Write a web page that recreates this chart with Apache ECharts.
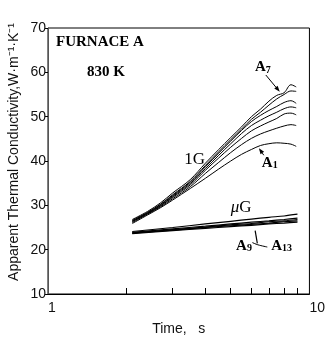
<!DOCTYPE html>
<html>
<head>
<meta charset="utf-8">
<script src="https://cdn.jsdelivr.net/npm/echarts@6/dist/echarts.min.js"></script>
<style>
  html, body { margin: 0; padding: 0; background: #fff; }
  #chart { width: 328px; height: 341px; }
</style>
</head>
<body>
<div id="chart"></div>
<script>
// time axis ticks (log scale)
const xLabels = [1, 10];
const xMinorTicks = [2, 3, 4, 5, 6, 7, 8, 9];

// 1G runs, A1 .. A7
const time1G = [2.1, 2.4, 2.7, 3.0, 3.5, 4.0, 4.5, 5.0, 5.5, 6.0, 6.5, 7.0, 7.5, 8.0, 8.5, 8.9];
const a1 = [25.9, 27.8, 29.5, 31.2, 33.8, 36.1, 38.2, 40.0, 41.5, 42.6, 43.5, 43.9, 44.1, 44.0, 43.8, 43.3];
const a2 = [26.1, 28.0, 29.7, 31.5, 34.2, 37.2, 39.7, 41.9, 43.7, 45.1, 46.1, 46.8, 47.4, 47.9, 48.2, 48.0];
const a3 = [26.3, 28.1, 29.9, 31.8, 34.6, 37.9, 40.7, 43.1, 45.1, 46.8, 47.9, 48.8, 49.6, 50.6, 50.8, 50.4];
const a4 = [26.4, 28.2, 30.0, 32.0, 34.9, 38.3, 41.3, 43.9, 46.2, 48.0, 49.2, 50.2, 51.0, 51.8, 52.2, 52.0];
const a5 = [26.5, 28.3, 30.2, 32.2, 35.2, 38.7, 41.8, 44.5, 46.9, 48.9, 50.3, 51.4, 52.3, 53.2, 53.6, 53.0];
const a6 = [26.6, 28.4, 30.3, 32.4, 35.4, 39.0, 42.1, 44.8, 47.2, 49.4, 51.0, 52.6, 54.0, 55.0, 55.8, 55.7];
const a7 = [26.8, 28.6, 30.6, 32.8, 35.8, 39.5, 42.6, 45.3, 47.7, 50.0, 51.7, 53.5, 54.8, 55.4, 57.2, 56.7];

// microgravity runs, A9 .. A13
const timeMu = [2.1, 3, 4, 5, 6, 7, 8, 9];
const a9  = [24.1, 25.0, 25.8, 26.4, 26.9, 27.3, 27.6, 28.0];
const a10 = [23.9, 24.7, 25.3, 25.8, 26.2, 26.5, 26.8, 27.1];
const a11 = [23.8, 24.5, 25.1, 25.6, 25.9, 26.3, 26.5, 26.8];
const a12 = [23.7, 24.4, 25.0, 25.4, 25.7, 26.0, 26.3, 26.5];
const a13 = [23.6, 24.3, 24.8, 25.2, 25.5, 25.8, 26.0, 26.2];

const runs1G = [a1, a2, a3, a4, a5, a6, a7];
const runsMu = [a9, a10, a11, a12, a13];

const serif = '"Liberation Serif", "DejaVu Serif", serif';
const sans = '"Liberation Sans", Arial, sans-serif';

const chartDom = document.getElementById('chart');
const myChart = echarts.init(chartDom, null, { renderer: 'canvas' });

const series = [];
runs1G.forEach((run, k) => {
  series.push({
    name: 'A' + (k + 1),
    type: 'line',
    data: time1G.map((t, i) => [t, run[i]]),
    showSymbol: false,
    smooth: 0.35,
    lineStyle: { color: '#000', width: 1 }
  });
});
runsMu.forEach((run, k) => {
  series.push({
    name: 'A' + (k + 9),
    type: 'line',
    data: timeMu.map((t, i) => [t, run[i]]),
    showSymbol: false,
    smooth: 0.3,
    lineStyle: { color: '#000', width: 1.2 }
  });
});

const option = {
  animation: false,
  grid: {
    left: 48, top: 28, right: 16, bottom: 42,
    show: true, borderColor: '#000', borderWidth: 1
  },
  xAxis: {
    type: 'log',
    logBase: 10,
    min: 1,
    max: 10,
    name: 'Time,   s',
    nameLocation: 'middle',
    nameGap: 28,
    nameTextStyle: { fontFamily: sans, fontSize: 14, color: '#111' },
    axisLine: { lineStyle: { color: '#000', width: 1 } },
    axisTick: { show: true, inside: true, length: 6, customValues: xMinorTicks, lineStyle: { color: '#000' } },
    axisLabel: { customValues: xLabels, align: 'left', margin: 7, fontFamily: sans, fontSize: 14, color: '#111' },
    splitLine: { show: false }
  },
  yAxis: {
    type: 'value',
    min: 10,
    max: 70,
    interval: 10,
    axisLine: { show: true, lineStyle: { color: '#555', width: 1 } },
    axisTick: { show: true, length: 3, lineStyle: { color: '#000' } },
    axisLabel: { margin: 2, fontFamily: sans, fontSize: 14, color: '#111' },
    splitLine: { show: false }
  },
  series: series
};
myChart.setOption(option);

// annotations, placed in data coordinates
const px = (t, v) => myChart.convertToPixel({ gridIndex: 0 }, [t, v]);

function arrow(from, to) {
  const p0 = px(from[0], from[1]);
  const p1 = px(to[0], to[1]);
  const ang = Math.atan2(p1[1] - p0[1], p1[0] - p0[0]);
  const L = 6, W = 2.2;
  const bx = p1[0] - L * Math.cos(ang), by = p1[1] - L * Math.sin(ang);
  const nx = -Math.sin(ang) * W, ny = Math.cos(ang) * W;
  return [
    { type: 'line', shape: { x1: p0[0], y1: p0[1], x2: bx, y2: by }, style: { stroke: '#000', lineWidth: 1 } },
    { type: 'polygon', shape: { points: [[p1[0], p1[1]], [bx + nx, by + ny], [bx - nx, by - ny]] }, style: { fill: '#000' } }
  ];
}

function label(t, v, rich, text) {
  const p = px(t, v);
  return {
    type: 'text', x: p[0], y: p[1],
    style: { text: text, rich: rich, align: 'center', verticalAlign: 'middle', fill: '#000' }
  };
}

const subRich = {
  a: { fontFamily: serif, fontWeight: 'bold', fontSize: 15, fill: '#000' },
  s: { fontFamily: serif, fontWeight: 'bold', fontSize: 10, fill: '#000', padding: [6, 0, 0, 0] }
};
const groupRich = {
  g: { fontFamily: serif, fontSize: 17, fill: '#000' },
  m: { fontFamily: serif, fontStyle: 'italic', fontSize: 17, fill: '#000' }
};

const elements = [];
// frame titles
elements.push({ type: 'text', x: 56, y: 42, style: { text: 'FURNACE A', font: 'bold 15px ' + serif, fill: '#000', verticalAlign: 'middle' } });
elements.push({ type: 'text', x: 106, y: 72, style: { text: '830 K', font: 'bold 15px ' + serif, fill: '#000', align: 'center', verticalAlign: 'middle' } });
// y axis title
elements.push({
  type: 'text', x: 14, y: 152, rotation: Math.PI / 2,
  style: { text: 'Apparent Thermal Conductivity,W·m⁻¹·K⁻¹', font: '14px ' + sans, fill: '#111', align: 'center', verticalAlign: 'middle' }
});
// group labels
elements.push(label(3.64, 40.3, groupRich, '{g|1G}'));
elements.push(label(5.48, 29.5, groupRich, '{m|μ}{g|G}'));
// run labels
elements.push(label(6.64, 61.1, subRich, '{a|A}{s|7}'));
elements.push(label(7.05, 39.6, subRich, '{a|A}{s|1}'));
elements.push(label(5.62, 20.9, subRich, '{a|A}{s|9}'));
elements.push(label(7.83, 20.9, subRich, '{a|A}{s|13}'));
// arrows
elements.push(...arrow([6.81, 59.4], [7.70, 55.6]));
elements.push(...arrow([6.69, 41.3], [6.41, 42.9]));
// A9 - A13 connector
const c0 = px(6.05, 21.6), c1 = px(6.35, 21.1), c2 = px(6.9, 20.6);
const u0 = px(6.2, 24.3), u1 = px(6.32, 21.4);
elements.push({ type: 'polyline', shape: { points: [c0, c1, c2], smooth: 0.4 }, style: { stroke: '#000', lineWidth: 1, fill: null } });
elements.push({ type: 'line', shape: { x1: u0[0], y1: u0[1], x2: u1[0], y2: u1[1] }, style: { stroke: '#000', lineWidth: 1.2 } });

myChart.setOption({ graphic: { elements: elements } });
</script>
</body>
</html>
